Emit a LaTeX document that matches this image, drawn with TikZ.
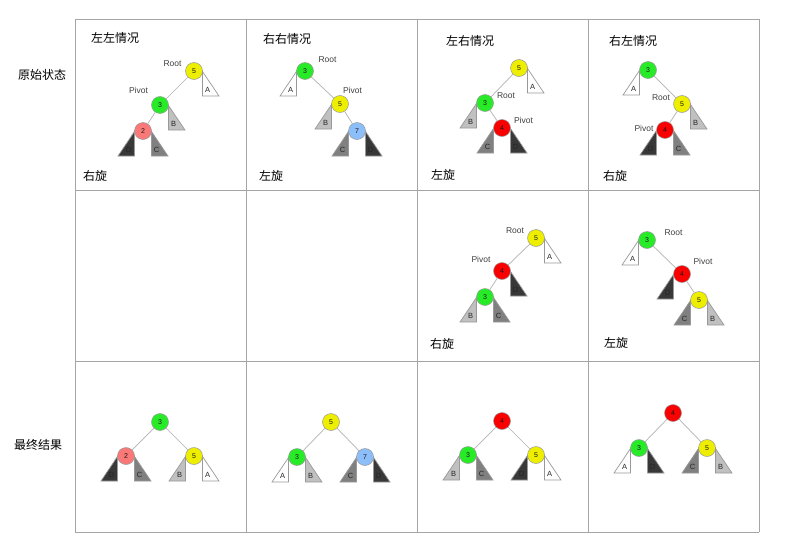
\documentclass[tikz,border=0pt]{standalone}
\usepackage{fontspec}
\setmainfont{Liberation Sans}
\newfontfamily\cjk{Noto Sans CJK SC}
\usetikzlibrary{calc}
\definecolor{cy}{RGB}{238,238,0}
\definecolor{cg}{RGB}{40,235,40}
\definecolor{cp}{RGB}{250,120,120}
\definecolor{cr}{RGB}{250,0,0}
\definecolor{cb}{RGB}{140,190,250}
\definecolor{cB}{RGB}{192,192,192}
\definecolor{cC}{RGB}{128,128,128}
\definecolor{cD}{RGB}{56,56,56}
\definecolor{gridc}{RGB}{165,165,165}
\tikzset{
  tnode/.style={circle, draw=black!40, line width=0.5pt, minimum size=17pt, inner sep=0pt, font=\fontsize{7}{8}\selectfont, text=black!90},
  edge/.style={draw=black!30, line width=0.7pt},
  subtri/.style={draw=black!40, line width=0.7pt, line join=miter},
  tletter/.style={inner sep=0pt, font=\fontsize{7.5}{8}\selectfont, text=black!85},
  lbl/.style={inner sep=0pt, font=\fontsize{8.5}{10}\selectfont, text=black!75},
  cjklbl/.style={inner sep=0pt, anchor=west, font=\cjk\fontsize{12}{14}\selectfont, text=black},
  gridline/.style={draw=gridc, line width=0.9pt}
}
\newcommand{\mySubL}[4]{%
  \draw[subtri,fill=#4] ($(#1.center)+(-8.5,0.5)$) -- ++(0,24.5) -- ++(-16.5,0) -- cycle;
  \node[tletter] (#2) at ($(#1.center)+(-14.5,19)$) {#3};}
\newcommand{\mySubR}[4]{%
  \draw[subtri,fill=#4] ($(#1.center)+(8.5,0.5)$) -- ++(0,24.5) -- ++(16.5,0) -- cycle;
  \node[tletter] (#2) at ($(#1.center)+(13.5,19)$) {#3};}
\begin{document}
\begin{tikzpicture}[x=1pt,y=-1pt]
\fill[white] (0,0) rectangle (806,549);
\useasboundingbox (0,0) rectangle (806,549);
% grid
\foreach \gx in {75,246,417,588,759} \draw[gridline] (\gx,19) -- (\gx,532);
\foreach \gy in {19,190,361,532} \draw[gridline] (75,\gy) -- (759,\gy);
% row labels
\node[cjklbl] (rowA) at (18,75) {原始状态};
\node[cjklbl] (rowC) at (14,445) {最终结果};
% case titles
\node[cjklbl] (t1) at (91,38) {左左情况};
\node[cjklbl] (t2) at (263,39) {右右情况};
\node[cjklbl] (t3) at (446,41) {左右情况};
\node[cjklbl] (t4) at (609,41) {右左情况};
\node[cjklbl] (r1) at (83,176) {右旋};
\node[cjklbl] (r2) at (259,176) {左旋};
\node[cjklbl] (r3) at (431,175) {左旋};
\node[cjklbl] (r4) at (603,176) {右旋};
\node[cjklbl] (r5) at (430,344) {右旋};
\node[cjklbl] (r6) at (604,343) {左旋};
% ---- cell 1
\node[tnode,fill=cy] (a5) at (194,71) {5};
\node[tnode,fill=cg] (a3) at (160,105) {3};
\node[tnode,fill=cp] (a2) at (143,131) {2};
\draw[edge] (a5) -- (a3); \draw[edge] (a3) -- (a2);
\mySubR{a5}{aA}{A}{white}
\mySubR{a3}{aB}{B}{cB}
\mySubL{a2}{aD}{D}{cD}
\mySubR{a2}{aC}{C}{cC}
\node[lbl] (aRoot) at (172.5,64) {Root};
\node[lbl] (aPiv) at (138.5,90) {Pivot};
% ---- cell 2
\node[tnode,fill=cg] (b3) at (305,71) {3};
\node[tnode,fill=cy] (b5) at (340,104) {5};
\node[tnode,fill=cb] (b7) at (357,131) {7};
\draw[edge] (b3) -- (b5); \draw[edge] (b5) -- (b7);
\mySubL{b3}{bA}{A}{white}
\mySubL{b5}{bB}{B}{cB}
\mySubL{b7}{bC}{C}{cC}
\mySubR{b7}{bD}{D}{cD}
\node[lbl] (bRoot) at (327.5,60) {Root};
\node[lbl] (bPiv) at (352.5,90) {Pivot};
% ---- cell 3
\node[tnode,fill=cy] (c5) at (519,68) {5};
\node[tnode,fill=cg] (c3) at (485,103) {3};
\node[tnode,fill=cr] (c4) at (502,128) {4};
\draw[edge] (c5) -- (c3); \draw[edge] (c3) -- (c4);
\mySubR{c5}{cA}{A}{white}
\mySubL{c3}{cBt}{B}{cB}
\mySubL{c4}{cCt}{C}{cC}
\mySubR{c4}{cDt}{D}{cD}
\node[lbl] (cRoot) at (506,96) {Root};
\node[lbl] (cPiv) at (523.5,120) {Pivot};
% ---- cell 4
\node[tnode,fill=cg] (d3) at (648,70) {3};
\node[tnode,fill=cy] (d5) at (682,104) {5};
\node[tnode,fill=cr] (d4) at (665,130) {4};
\draw[edge] (d3) -- (d5); \draw[edge] (d5) -- (d4);
\mySubL{d3}{dA}{A}{white}
\mySubR{d5}{dB}{B}{cB}
\mySubL{d4}{dD}{D}{cD}
\mySubR{d4}{dC}{C}{cC}
\node[lbl] (dRoot) at (661,98) {Root};
\node[lbl] (dPiv) at (644,128) {Pivot};
% ---- row 2 cell 3
\node[tnode,fill=cy] (e5) at (536,238) {5};
\node[tnode,fill=cr] (e4) at (502,271) {4};
\node[tnode,fill=cg] (e3) at (485,297) {3};
\draw[edge] (e5) -- (e4); \draw[edge] (e4) -- (e3);
\mySubR{e5}{eA}{A}{white}
\mySubR{e4}{eD}{D}{cD}
\mySubL{e3}{eB}{B}{cB}
\mySubR{e3}{eC}{C}{cC}
\node[lbl] (eRoot) at (515,231) {Root};
\node[lbl] (ePiv) at (481,259) {Pivot};
% ---- row 2 cell 4
\node[tnode,fill=cg] (f3) at (647,240) {3};
\node[tnode,fill=cr] (f4) at (682,274) {4};
\node[tnode,fill=cy] (f5) at (699,300) {5};
\draw[edge] (f3) -- (f4); \draw[edge] (f4) -- (f5);
\mySubL{f3}{fA}{A}{white}
\mySubL{f4}{fD}{D}{cD}
\mySubL{f5}{fC}{C}{cC}
\mySubR{f5}{fB}{B}{cB}
\node[lbl] (fRoot) at (673.5,233) {Root};
\node[lbl] (fPiv) at (703,261) {Pivot};
% ---- row 3 cell 1
\node[tnode,fill=cg] (g3) at (160,422) {3};
\node[tnode,fill=cp] (g2) at (126,456) {2};
\node[tnode,fill=cy] (g5) at (194,456) {5};
\draw[edge] (g3) -- (g2); \draw[edge] (g3) -- (g5);
\mySubL{g2}{gD}{D}{cD}
\mySubR{g2}{gC}{C}{cC}
\mySubL{g5}{gB}{B}{cB}
\mySubR{g5}{gA}{A}{white}
% ---- row 3 cell 2
\node[tnode,fill=cy] (h5) at (331,422) {5};
\node[tnode,fill=cg] (h3) at (297,457) {3};
\node[tnode,fill=cb] (h7) at (365,457) {7};
\draw[edge] (h5) -- (h3); \draw[edge] (h5) -- (h7);
\mySubL{h3}{hA}{A}{white}
\mySubR{h3}{hB}{B}{cB}
\mySubL{h7}{hC}{C}{cC}
\mySubR{h7}{hD}{D}{cD}
% ---- row 3 cell 3
\node[tnode,fill=cr] (i4) at (502,421) {4};
\node[tnode,fill=cg] (i3) at (468,455) {3};
\node[tnode,fill=cy] (i5) at (536,455) {5};
\draw[edge] (i4) -- (i3); \draw[edge] (i4) -- (i5);
\mySubL{i3}{iB}{B}{cB}
\mySubR{i3}{iC}{C}{cC}
\mySubL{i5}{iD}{D}{cD}
\mySubR{i5}{iA}{A}{white}
% ---- row 3 cell 4
\node[tnode,fill=cr] (j4) at (673,413) {4};
\node[tnode,fill=cg] (j3) at (639,448) {3};
\node[tnode,fill=cy] (j5) at (707,448) {5};
\draw[edge] (j4) -- (j3); \draw[edge] (j4) -- (j5);
\mySubL{j3}{jA}{A}{white}
\mySubR{j3}{jD}{D}{cD}
\mySubL{j5}{jC}{C}{cC}
\mySubR{j5}{jB}{B}{cB}
\end{tikzpicture}
\end{document}
